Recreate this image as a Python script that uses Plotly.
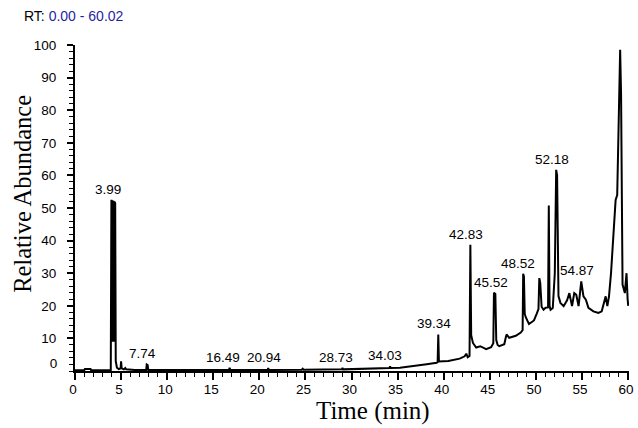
import plotly.graph_objects as go

# Chromatogram trace: retention time (min) and relative abundance (%)
rt_min = [0.00, 1.00, 1.07, 1.69, 1.75, 3.88, 3.95, 4.00, 4.05, 4.10,
          4.15, 4.20, 4.25, 4.30, 4.36, 4.42, 4.55, 4.75, 4.95, 5.00,
          5.06, 5.30, 5.45, 5.55, 6.50, 7.72, 7.78, 7.88, 7.95, 12.00,
          16.70, 16.77, 16.85, 20.90, 20.96, 21.02, 24.60, 24.70, 24.80, 28.95,
          29.02, 29.10, 32.00, 34.10, 34.18, 34.26, 35.25, 36.36, 37.40, 38.15,
          39.23, 39.34, 39.41, 39.48, 40.50, 41.73, 42.27, 42.45, 42.60, 42.80,
          42.89, 42.98, 43.17, 43.52, 43.96, 44.60, 45.14, 45.38, 45.45, 45.60,
          45.70, 45.85, 46.03, 46.57, 46.75, 46.82, 47.10, 47.82, 48.36, 48.56,
          48.62, 48.70, 48.79, 48.90, 49.25, 49.79, 50.08, 50.28, 50.37, 50.47,
          50.62, 50.83, 51.05, 51.32, 51.40, 51.48, 51.59, 51.83, 52.05, 52.20,
          52.30, 52.40, 52.45, 52.66, 53.01, 53.38, 53.63, 53.92, 54.16, 54.38,
          54.63, 54.92, 55.16, 55.42, 55.70, 56.24, 56.78, 57.14, 57.42, 57.57,
          57.75, 57.93, 58.15, 58.40, 58.65, 58.82, 58.97, 59.14, 59.24, 59.40,
          59.65, 59.83, 59.95, 60.02]
rel_abund = [0.2, 0.2, 0.6, 0.6, 0.2, 0.3, 52.5, 9.0, 52.4, 9.0,
             52.2, 9.0, 52.0, 51.8, 51.5, 3.0, 1.0, 0.6, 0.8, 3.0,
             0.8, 0.5, 0.9, 0.5, 0.3, 0.3, 2.0, 1.8, 0.3, 0.3,
             0.3, 1.0, 0.3, 0.3, 0.9, 0.3, 0.4, 0.7, 0.4, 0.5,
             0.9, 0.5, 0.6, 0.9, 1.4, 0.9, 1.0, 1.5, 1.8, 2.1,
             2.5, 2.7, 11.2, 2.9, 3.1, 3.8, 4.5, 5.3, 4.2, 4.6,
             38.7, 11.0, 8.6, 7.2, 7.6, 6.7, 7.3, 8.5, 24.0, 23.6,
             9.5, 8.0, 7.6, 8.2, 10.5, 11.2, 10.2, 10.8, 11.8, 12.5,
             29.8, 29.0, 17.5, 16.5, 14.4, 15.5, 17.5, 19.0, 28.5, 27.0,
             19.7, 18.8, 19.4, 19.5, 50.8, 20.0, 18.8, 19.3, 30.0, 61.7,
             60.0, 30.0, 23.0, 20.9, 19.9, 21.7, 23.9, 19.9, 23.9, 23.4,
             19.9, 27.5, 22.9, 21.9, 19.4, 18.3, 17.8, 18.3, 21.9, 22.9,
             19.9, 22.9, 30.0, 41.3, 52.5, 54.0, 74.0, 98.5, 85.0, 26.5,
             23.9, 30.0, 22.0, 20.0]

# Labelled peaks: retention time label and apex abundance
peak_rt = [3.99, 7.74, 16.49, 20.94, 28.73, 34.03, 39.34, 42.83, 45.52, 48.52, 52.18, 54.87]
peak_abund = [52.5, 2.0, 1.0, 0.9, 0.9, 1.4, 11.2, 38.7, 24.0, 29.8, 61.7, 27.5]

x_ticks = list(range(0, 61, 5))
y_ticks = list(range(10, 101, 10))

SANS = "Liberation Sans, Arial, sans-serif"
SERIF = "Liberation Serif, Times New Roman, serif"

fig = go.Figure()
fig.add_trace(go.Scatter(x=rt_min, y=rel_abund, mode="lines",
                         line=dict(color="black", width=2),
                         showlegend=False, hoverinfo="skip"))
fig.add_trace(go.Scatter(x=[], y=[], yaxis="y2", showlegend=False, hoverinfo="skip"))

annotations = []
for t, a in zip(peak_rt, peak_abund):
    annotations.append(dict(x=t, y=a, xref="x", yref="y", text=f"{t:.2f}",
                            showarrow=False, xanchor="center", yanchor="bottom",
                            xshift=-4, yshift=1,
                            font=dict(family=SANS, size=13.5, color="black")))

annotations.append(dict(xref="paper", yref="paper", x=-0.095, y=1.09,
                        xanchor="left", yanchor="middle", showarrow=False,
                        text="RT: <span style='color:#1f1f9e'>0.00 - 60.02</span>",
                        font=dict(family=SANS, size=14, color="black")))
annotations.append(dict(xref="paper", yref="paper", x=0.5376, y=-0.124,
                        xanchor="center", yanchor="middle", showarrow=False,
                        text="Time (min)",
                        font=dict(family=SERIF, size=25, color="black")))
annotations.append(dict(xref="paper", yref="paper", x=-0.095, y=0.5445,
                        xanchor="center", yanchor="middle", showarrow=False,
                        textangle=-90, text="Relative Abundance",
                        font=dict(family=SERIF, size=24.5, color="black")))

fig.update_layout(
    width=638, height=428,
    margin=dict(l=75, r=4, t=45, b=57),
    paper_bgcolor="white", plot_bgcolor="white",
    annotations=annotations,
    xaxis=dict(range=[0, 60.1], tickvals=x_ticks, ticks="outside", ticklen=7,
               tickwidth=1.5, tickcolor="black", showline=True, linecolor="black",
               linewidth=2, showgrid=False, zeroline=False, ticklabelshift=-2,
               ticklabelstandoff=-2, ticklabeloverflow="allow",
               tickfont=dict(family=SANS, size=13.5, color="black"),
               minor=dict(dtick=1, tick0=0, ticks="outside", ticklen=4,
                          tickwidth=1.2, tickcolor="black", showgrid=False)),
    yaxis=dict(range=[0, 100], tickvals=y_ticks, ticks="outside", ticklen=6,
               tickwidth=1.5, tickcolor="black", showline=True, linecolor="black",
               linewidth=2, showgrid=False, zeroline=False, ticklabelstandoff=8,
               ticklabeloverflow="allow",
               tickfont=dict(family=SANS, size=13.5, color="black"),
               minor=dict(dtick=2, tick0=0, ticks="outside", ticklen=4,
                          tickwidth=1.2, tickcolor="black", showgrid=False)),
    yaxis2=dict(overlaying="y", side="left", range=[0, 100], tickvals=[2.5],
                ticktext=["0"], ticks="outside", ticklen=6,
                tickcolor="rgba(0,0,0,0)", showline=False, showgrid=False,
                zeroline=False, ticklabelstandoff=8, ticklabeloverflow="allow",
                tickfont=dict(family=SANS, size=13.5, color="black")),
)

fig.write_html("out.html")
